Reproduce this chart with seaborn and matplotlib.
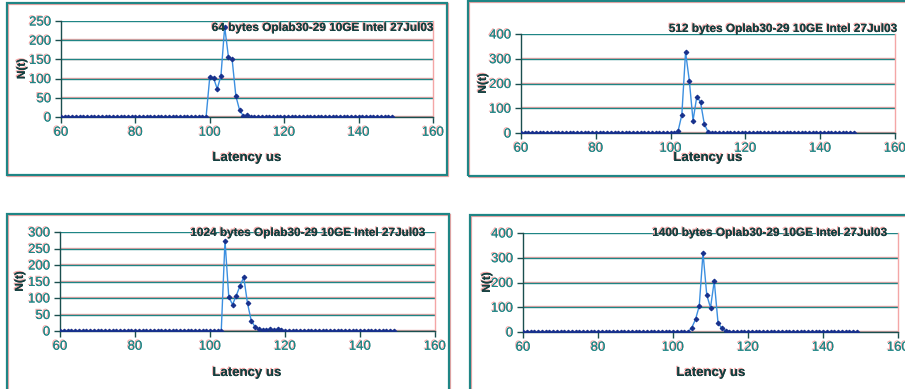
import numpy as np
import pandas as pd
import matplotlib
matplotlib.use("Agg")
import matplotlib.pyplot as plt
import matplotlib.patheffects as pe
from matplotlib.patches import Rectangle
from matplotlib.transforms import offset_copy
import seaborn as sns

sns.set_theme(style="white")
plt.rcParams["font.family"] = ["Liberation Sans", "DejaVu Sans"]

# latency bins (us) shared by all four histograms
latency = np.arange(60, 150)

titles = [
    "64 bytes Oplab30-29 10GE Intel 27Jul03",
    "512 bytes Oplab30-29 10GE Intel 27Jul03",
    "1024 bytes Oplab30-29 10GE Intel 27Jul03",
    "1400 bytes Oplab30-29 10GE Intel 27Jul03",
]
# first non-zero bin and the counts, zero elsewhere
peak_start = [100, 102, 104, 105]
peak_64 = [105, 102, 73, 108, 235, 157, 150, 55, 18, 3, 4]
peak_512 = [8, 73, 327, 212, 50, 147, 125, 37, 5]
peak_1024 = [274, 104, 80, 107, 137, 163, 84, 31, 13, 5, 2, 2, 6, 2, 5, 2]
peak_1400 = [17, 51, 105, 320, 150, 98, 206, 38, 15, 5, 2]
peaks = [peak_64, peak_512, peak_1024, peak_1400]
y_max = [250, 400, 300, 400]
y_step = [50, 100, 50, 100]

W, H = 905, 389
TEAL = "#1f8585"
PINK = "#f4a6a6"

# layout in pixels: plot area (x0, x1, ytop, ybot), border box, label spots
plot_px = [(61, 433, 21, 117), (521, 895, 34, 133), (60, 435, 232, 331), (523, 898, 233, 332)]
border_px = [(7, 447, 3, 175), (468, 915, 1, 176), (7, 449, 214, 400), (470, 915, 215, 400)]
title_px = [(433, 28), (897, 29), (425, 233), (887, 233)]
xlab_px = [(247, 158), (708, 158), (247, 373), (711, 373)]
ylab_px = [22, 483, 20, 487]

fig = plt.figure(figsize=(W / 100, H / 100), dpi=100)
shadow = [pe.withSimplePatchShadow(offset=(-0.8, 0.8), shadow_rgbFace=PINK, alpha=1.0), pe.Normal()]

for (bx0, bx1, by0, by1) in border_px:
    fig.patches.append(Rectangle((bx0 / W + 0.0015, 1 - by1 / H - 0.003), (bx1 - bx0) / W, (by1 - by0) / H,
                                 transform=fig.transFigure, fill=False, edgecolor=PINK, lw=1.6))
    fig.patches.append(Rectangle((bx0 / W, 1 - by1 / H), (bx1 - bx0) / W, (by1 - by0) / H,
                                 transform=fig.transFigure, fill=False, edgecolor=TEAL, lw=1.6))

for i in range(4):
    x0, x1, yt, yb = plot_px[i]
    ax = fig.add_axes([x0 / W, 1 - yb / H, (x1 - x0) / W, (yb - yt) / H])
    counts = np.zeros(len(latency))
    s = peak_start[i] - latency[0]
    counts[s:s + len(peaks[i])] = peaks[i]
    df = pd.DataFrame({"latency": latency, "count": counts})

    ticks = np.arange(0, y_max[i] + 1, y_step[i])
    off = offset_copy(ax.transData, fig=fig, x=-0.8, y=0.9, units="dots")
    for t in ticks:
        ax.plot([60, 160], [t, t], color=PINK, lw=1.0, transform=off, zorder=1)
        ax.plot([60, 160], [t, t], color=TEAL, lw=1.0, zorder=1.5)

    sns.lineplot(data=df, x="latency", y="count", ax=ax, color="#3b8fe0", lw=1.0,
                 marker="D", markersize=2.4, markerfacecolor="#17308c",
                 markeredgecolor="#17308c", zorder=3)

    ax.set_xlim(60, 160)
    ax.set_ylim(0, y_max[i])
    ax.set_xticks(np.arange(60, 161, 20))
    ax.set_yticks(ticks)
    ax.set_xlabel("")
    ax.set_ylabel("")
    ax.patch.set_alpha(0)
    ax.spines["top"].set_visible(False)
    ax.spines["right"].set_color(PINK)
    ax.spines["right"].set_linewidth(1.0)
    for side in ["left", "bottom"]:
        ax.spines[side].set_color("#1a4f4f")
        ax.spines[side].set_linewidth(1.0)
    ax.tick_params(axis="both", direction="out", length=4, width=1.0, color="#1a4f4f",
                   labelsize=9.5, labelcolor=TEAL, pad=3, left=True, bottom=True)
    for lab in ax.get_xticklabels() + ax.get_yticklabels():
        lab.set_path_effects(shadow)

    tx, ty = title_px[i]
    fig.text(tx / W, 1 - ty / H, titles[i], ha="right", va="center", fontsize=8.5,
             fontweight="bold", color="#143f3f", path_effects=shadow, zorder=5)
    lx, ly = xlab_px[i]
    fig.text(lx / W, 1 - ly / H, "Latency us", ha="center", va="center", fontsize=9.5,
             fontweight="bold", color="#143f3f", path_effects=shadow, zorder=5)
    fig.text(ylab_px[i] / W, 1 - ((yt + yb) / 2) / H, "N(t)", ha="center", va="center",
             rotation=90, fontsize=8.5, fontweight="bold", color="#143f3f", path_effects=shadow)

fig.savefig("out.png", dpi=100)
